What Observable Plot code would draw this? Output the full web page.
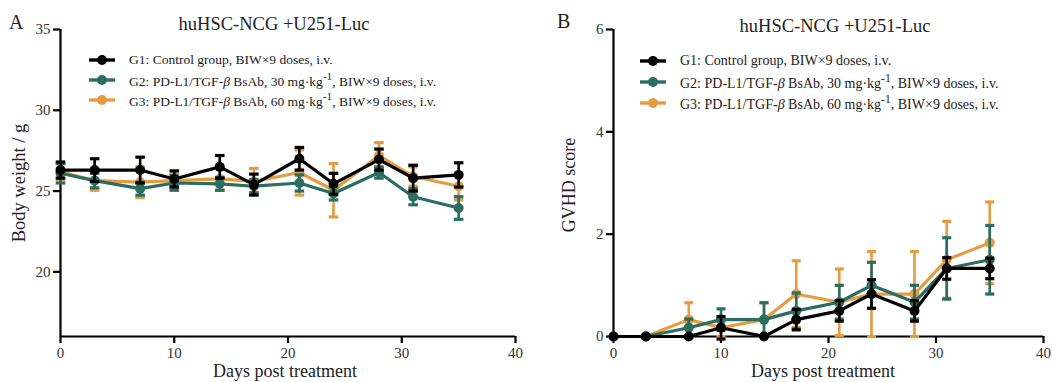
<!DOCTYPE html>
<html>
<head>
<meta charset="utf-8">
<script src="https://cdn.jsdelivr.net/npm/d3@7"></script>
<script src="https://cdn.jsdelivr.net/npm/@observablehq/plot@0.6"></script>
<style>
  body { margin: 0; background: #fff; }
  #wrap { position: relative; width: 1052px; height: 382px; overflow: hidden; font-family: "Liberation Serif", "Times New Roman", serif; color: #222; }
  #wrap svg { position: absolute; top: 0; }
  .txt { position: absolute; white-space: nowrap; line-height: 1; }
  .leg { position: absolute; display: flex; align-items: center; height: 18px; white-space: nowrap; color: #222; }
  .leg svg { position: static !important; margin-right: 14px; }
  .rot { position: absolute; transform: translate(-50%, -50%) rotate(-90deg); white-space: nowrap; line-height: 1; }
</style>
</head>
<body>
<div id="wrap"></div>
<script>
// ---------------- data ----------------
const days = [0, 3, 7, 10, 14, 17, 21, 24, 28, 31, 35];
const groupNames = ["G1", "G2", "G3"];
const groupLabels = [
  "G1: Control group, BIW×9 doses, i.v.",
  "G2: PD-L1/TGF-<i>β</i> BsAb, 30 mg·kg<sup>-1</sup>, BIW×9 doses, i.v.",
  "G3: PD-L1/TGF-<i>β</i> BsAb, 60 mg·kg<sup>-1</sup>, BIW×9 doses, i.v."
];
const groupColors = ["#000000", "#2a6e61", "#e59b3f"];

// Panel A: body weight (g), mean and error
const bwG1 = [26.3, 26.3, 26.3, 25.75, 26.5, 25.4, 27.0, 25.45, 26.95, 25.8, 26.0];
const bwG1err = [0.5, 0.7, 0.8, 0.5, 0.7, 0.65, 0.7, 0.65, 0.65, 0.8, 0.75];
const bwG2 = [26.1, 25.65, 25.15, 25.5, 25.45, 25.3, 25.5, 24.85, 26.15, 24.65, 23.95];
const bwG2err = [0.6, 0.45, 0.4, 0.45, 0.4, 0.4, 0.5, 0.4, 0.35, 0.5, 0.7];
const bwG3 = [26.2, 25.65, 25.55, 25.65, 25.75, 25.6, 26.15, 25.05, 27.2, 25.9, 25.3];
const bwG3err = [0.5, 0.6, 0.95, 0.4, 0.7, 0.8, 1.4, 1.65, 0.8, 0.6, 0.85];

// Panel B: GVHD score
const gvG1 = [0, 0, 0, 0.17, 0, 0.33, 0.5, 0.83, 0.5, 1.33, 1.33];
const gvG1err = [0, 0, 0, 0.22, 0, 0.2, 0.2, 0.28, 0.2, 0.21, 0.2];
const gvG2 = [0, 0, 0.17, 0.33, 0.33, 0.5, 0.67, 1.0, 0.67, 1.33, 1.5];
const gvG2err = [0, 0, 0.17, 0.21, 0.33, 0.35, 0.33, 0.45, 0.33, 0.6, 0.67];
const gvG3 = [0, 0, 0.33, 0.17, 0.33, 0.83, 0.67, 0.83, 0.83, 1.5, 1.83];
const gvG3err = [0, 0, 0.33, 0.17, 0.33, 0.65, 0.65, 0.83, 0.83, 0.75, 0.8];

const xTicks = [0, 10, 20, 30, 40];
const yTicksA = [20, 25, 30, 35];
const yTicksB = [0, 2, 4, 6];
const title = "huHSC-NCG +U251-Luc";
const xTitle = "Days post treatment";
const yTitleA = "Body weight / g";
const yTitleB = "GVHD score";

// ---------------- helpers ----------------
function groupMarks(vals, errs, color) {
  const data = days.map((d, i) => ({day: d, v: vals[i], e: errs[i]}));
  const eb = data.filter(d => d.e > 0);
  const cap = 0.42;
  return [
    Plot.ruleX(eb, {x: "day", y1: d => d.v - d.e, y2: d => d.v + d.e, stroke: color, strokeWidth: 2.6}),
    Plot.link(eb, {x1: d => d.day - cap, x2: d => d.day + cap, y1: d => d.v + d.e, y2: d => d.v + d.e, stroke: color, strokeWidth: 3.2}),
    Plot.link(eb, {x1: d => d.day - cap, x2: d => d.day + cap, y1: d => d.v - d.e, y2: d => d.v - d.e, stroke: color, strokeWidth: 3.2}),
    Plot.line(data, {x: "day", y: "v", stroke: color, strokeWidth: 3.2}),
    Plot.dot(data, {x: "day", y: "v", r: 5, fill: color, stroke: "none"})
  ];
}

function panel(opts) {
  const groups = [[opts.g3, opts.e3, groupColors[2]], [opts.g2, opts.e2, groupColors[1]], [opts.g1, opts.e1, groupColors[0]]];
  return Plot.plot({
    width: opts.width, height: 382,
    marginLeft: opts.ml, marginRight: opts.mr, marginTop: 29, marginBottom: 46,
    x: {domain: [0, 40]},
    y: {domain: opts.ydomain},
    style: {fontFamily: "'Liberation Serif', 'Times New Roman', serif", fontSize: "15px", background: "transparent", overflow: "visible"},
    marks: [
      Plot.ruleX([0], {stroke: "#000", strokeWidth: 2.2}),
      Plot.ruleY([opts.ydomain[0]], {stroke: "#000", strokeWidth: 2.2}),
      Plot.axisX({ticks: xTicks, tickFormat: d3.format("d"), tickSize: 7, tickPadding: 4, strokeWidth: 2.2, stroke: "#000", fill: "#333", label: null, fontSize: 15}),
      Plot.axisY({ticks: opts.yticks, tickFormat: d3.format("d"), tickSize: 7, tickPadding: 3, strokeWidth: 2.2, stroke: "#000", fill: "#333", label: null, fontSize: 15}),
      ...groups.flatMap(([v, e, c]) => groupMarks(v, e, c))
    ]
  });
}

const wrap = document.getElementById("wrap");

const svgA = panel({width: 540, ml: 60, mr: 25, ydomain: [16, 35], yticks: yTicksA,
  g1: bwG1, e1: bwG1err, g2: bwG2, e2: bwG2err, g3: bwG3, e3: bwG3err});
svgA.style.left = "0px";
wrap.appendChild(svgA);

const svgB = panel({width: 512, ml: 73, mr: 9, ydomain: [0, 6], yticks: yTicksB,
  g1: gvG1, e1: gvG1err, g2: gvG2, e2: gvG2err, g3: gvG3, e3: gvG3err});
svgB.style.left = "540px";
wrap.appendChild(svgB);

// ---------------- text & legends ----------------
function addText(html, left, top, size, extra) {
  const d = document.createElement("div");
  d.className = "txt";
  d.innerHTML = html;
  d.style.left = left + "px";
  d.style.top = top + "px";
  d.style.fontSize = size + "px";
  if (extra) Object.assign(d.style, extra);
  wrap.appendChild(d);
  return d;
}
function addCentered(html, cx, top, size) {
  const d = addText(html, cx, top, size);
  d.style.transform = "translateX(-50%)";
  return d;
}
function addRot(html, cx, cy, size) {
  const d = document.createElement("div");
  d.className = "rot";
  d.innerHTML = html;
  d.style.left = cx + "px";
  d.style.top = cy + "px";
  d.style.fontSize = size + "px";
  wrap.appendChild(d);
}
function addLegend(left, tops, size) {
  groupLabels.forEach((lab, i) => {
    const row = document.createElement("div");
    row.className = "leg";
    row.style.left = left + "px";
    row.style.top = (tops[i] - 9) + "px";
    row.style.fontSize = size + "px";
    const c = groupColors[i];
    row.innerHTML = `<svg width="26" height="12"><line x1="0" y1="6" x2="26" y2="6" stroke="${c}" stroke-width="3.4"/><circle cx="13" cy="6" r="5" fill="${c}"/></svg><span>${lab}</span>`;
    wrap.appendChild(row);
  });
}

// panel labels
addText("A", 9, 12, 20);
addText("B", 557, 11, 20);
// titles
addCentered(title, 274, 15, 18.5);
addCentered(title, 835, 17, 18.5);
// legends
addLegend(89, [60, 80, 100], 13.5);
addLegend(640, [61, 82, 103], 14);
// axis titles
addCentered(xTitle, 285, 362, 18);
addCentered(xTitle, 823, 362, 18);
addRot(yTitleA, 19, 183, 18.5);
addRot(yTitleB, 569, 185, 18);
</script>
</body>
</html>
